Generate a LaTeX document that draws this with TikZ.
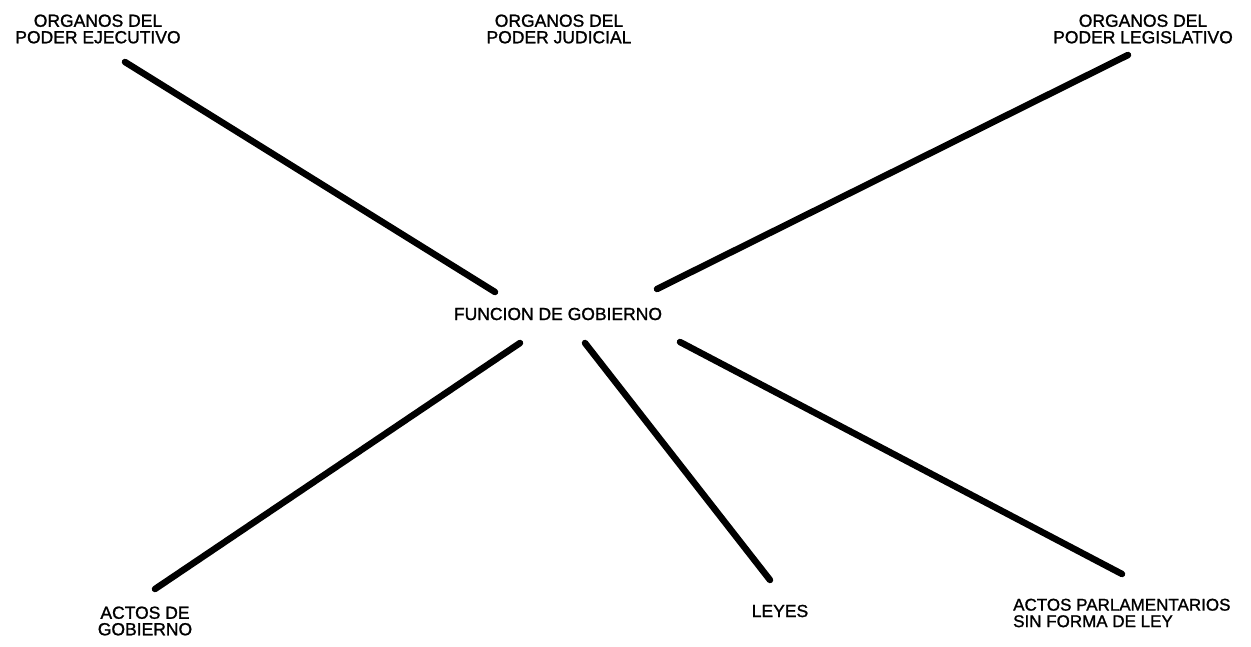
\documentclass[tikz,border=0pt]{standalone}
\usepackage{fontspec}
\setmainfont[FakeBold=1.2]{Liberation Sans}
\begin{document}
\begin{tikzpicture}[x=1pt,y=-1pt,
  lbl/.style={inner sep=0pt, align=center, font=\fontsize{17.5}{16.5}\selectfont},
  conn/.style={line width=6.5pt, line cap=round}]
\useasboundingbox[fill=white] (0,0) rectangle (1251,646);
\node[lbl] (ejec) at (98,29) {ORGANOS DEL\\PODER EJECUTIVO};
\node[lbl] (jud) at (559,29) {ORGANOS DEL\\PODER JUDICIAL};
\node[lbl] (leg) at (1143,29) {ORGANOS DEL\\PODER LEGISLATIVO};
\node[lbl] (fun) at (558,314) {FUNCION DE GOBIERNO};
\node[lbl] (actos) at (145,621) {ACTOS DE\\GOBIERNO};
\node[lbl] (leyes) at (780,611) {LEYES};
\node[lbl, align=left, anchor=west, font=\fontsize{17}{16.5}\selectfont] (parl) at (1013,613) {ACTOS PARLAMENTARIOS\\SIN FORMA DE LEY};
\coordinate (e1) at (125,62);   \coordinate (e2) at (495,292);
\coordinate (l1) at (1128,55);  \coordinate (l2) at (657,289);
\coordinate (a1) at (520,343);  \coordinate (a2) at (155,589);
\coordinate (y1) at (585,343);  \coordinate (y2) at (770,580);
\coordinate (p1) at (680,342);  \coordinate (p2) at (1122,574);
\draw[conn] (e1) -- (e2);
\draw[conn] (l1) -- (l2);
\draw[conn] (a1) -- (a2);
\draw[conn] (y1) -- (y2);
\draw[conn] (p1) -- (p2);
\end{tikzpicture}
\end{document}
